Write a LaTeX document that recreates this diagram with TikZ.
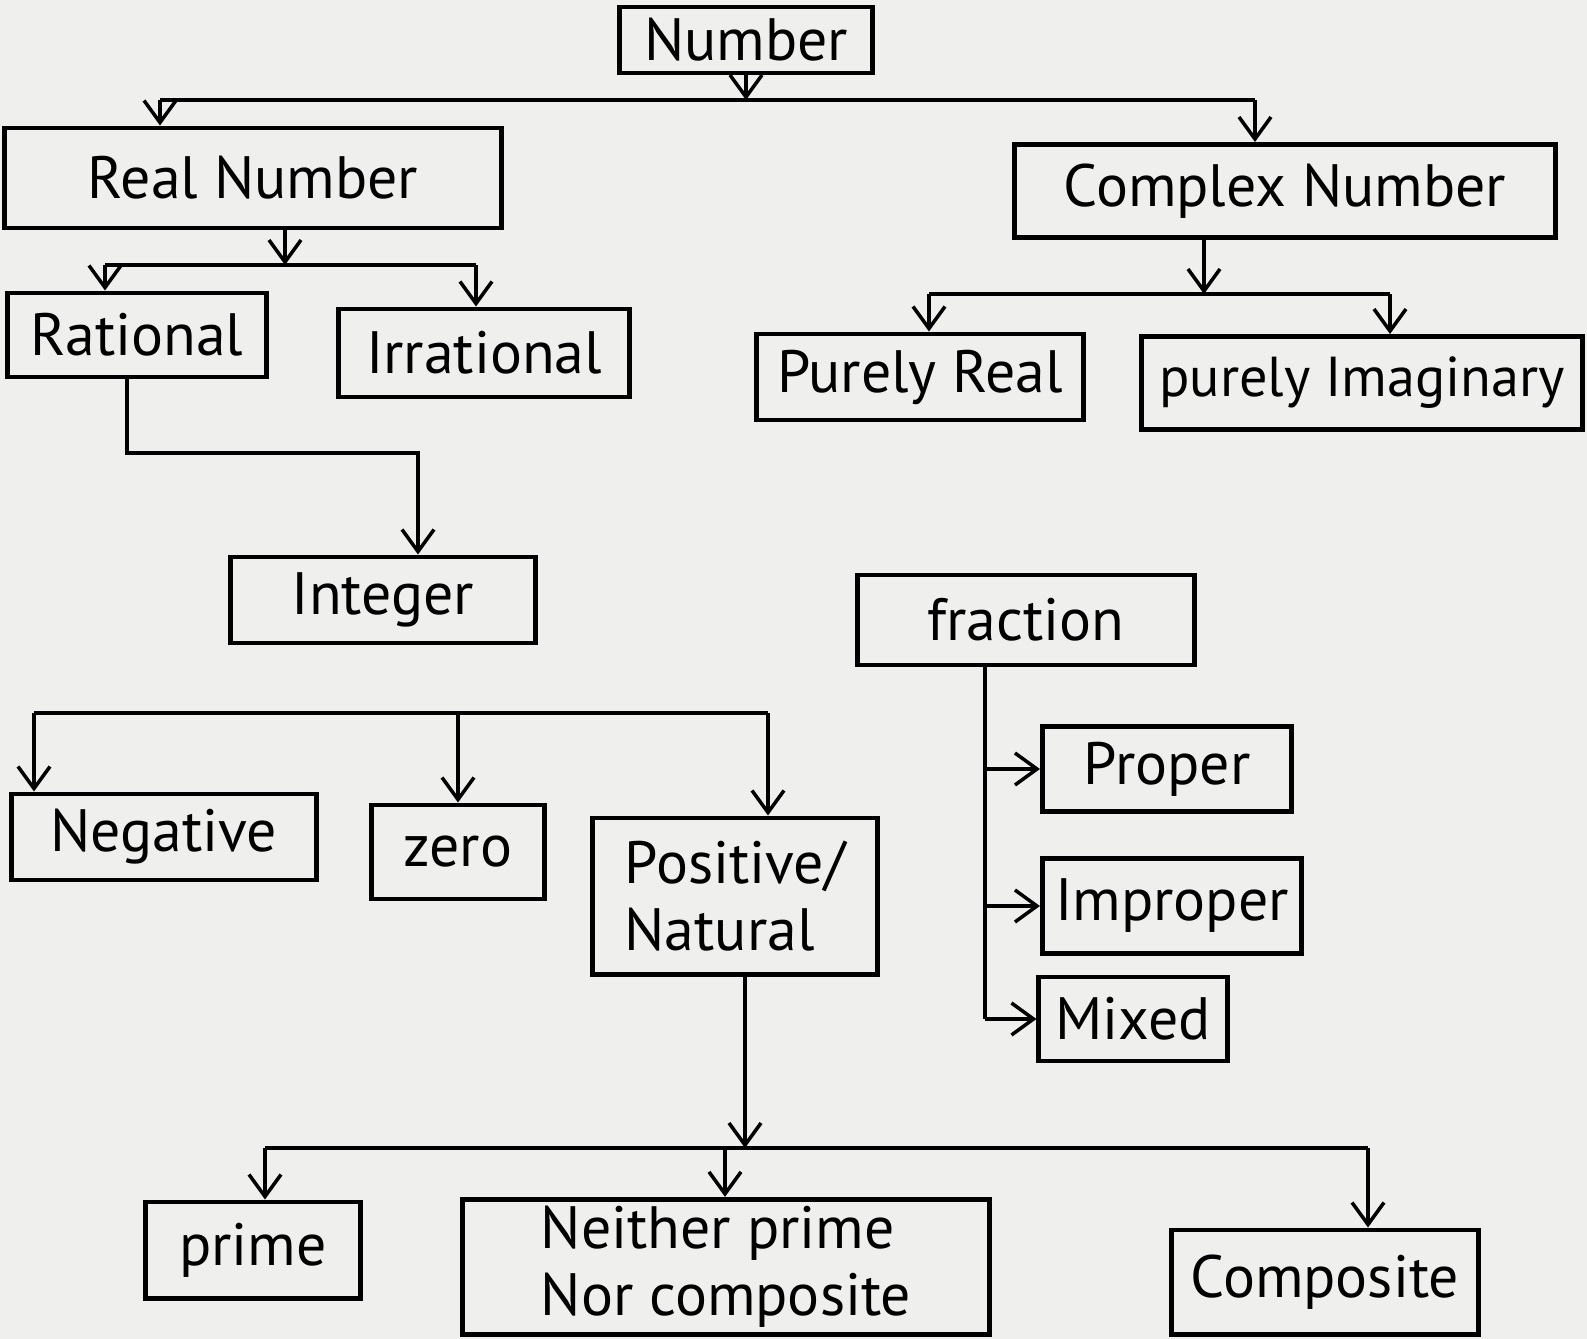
\documentclass[tikz,border=0pt]{standalone}
\usepackage{fontspec}
\setmainfont{PT Sans}
\usetikzlibrary{arrows.meta, calc}

\definecolor{paper}{RGB}{239,239,237}

\begin{document}
\begin{tikzpicture}[x=0.01cm, y=-0.01cm,
	box/.style={draw, rectangle, line width=1.4pt, inner sep=2pt,
		font=\fontsize{17}{19}\selectfont},
	link/.style={line width=1pt},
	arr/.style={link, -{Straight Barb[length=2.2mm, width=3.2mm]}}]

	\fill[paper] (0,0) rectangle (1587,1339);
	\useasboundingbox (0,0) rectangle (1587,1339);

	\node[box, minimum width=2.52cm, minimum height=0.66cm] (number)     at (746,40)   {Number};

	\node[box, minimum width=4.96cm, minimum height=1.00cm] (real)       at (253,178)  {Real Number};
	\node[box, minimum width=5.40cm, minimum height=0.93cm] (complex)    at (1285,191) {Complex Number};

	\node[box, minimum width=2.59cm, minimum height=0.84cm] (rational)   at (137,335)  {Rational};
	\node[box, minimum width=2.90cm, minimum height=0.88cm] (irrational) at (484,353)  {Irrational};
	\node[box, minimum width=3.26cm, minimum height=0.86cm] (pureal)     at (920,377)  {Purely Real};
	\node[box, minimum width=4.40cm, minimum height=0.93cm, font=\fontsize{16}{18}\selectfont]
		(puimag) at (1362,383) {purely Imaginary};

	\node[box, minimum width=3.05cm, minimum height=0.86cm] (integer)    at (383,600)  {Integer};
	\node[box, minimum width=3.36cm, minimum height=0.90cm] (fraction)   at (1026,620) {fraction};

	\node[box, minimum width=3.04cm, minimum height=0.86cm] (negative)   at (164,837)  {Negative};
	\node[box, minimum width=1.73cm, minimum height=0.94cm] (zero)       at (458,852)  {zero};
	\node[box, minimum width=2.85cm, minimum height=1.56cm, align=left]
		(positive) at (735,896) {Positive/\\Natural};

	\node[box, minimum width=2.49cm, minimum height=0.85cm] (proper)     at (1167,769) {Proper};
	\node[box, minimum width=2.59cm, minimum height=0.95cm] (improper)   at (1172,906) {Improper};
	\node[box, minimum width=1.88cm, minimum height=0.84cm] (mixed)      at (1133,1019) {Mixed};

	\node[box, minimum width=2.15cm, minimum height=0.96cm] (prime)      at (253,1250) {prime};
	\node[box, minimum width=5.26cm, minimum height=1.11cm, align=left]
		(neither) at (726,1267) {Neither prime\\Nor composite};
	\node[box, minimum width=3.07cm, minimum height=1.04cm] (composite)  at (1325,1282) {Composite};

	\coordinate (topbus) at (746,100);
	\coordinate (tl) at (160,100);
	\coordinate (tr) at (1255,100);
	\draw[arr] (number.south) -- (topbus);
	\draw[link] (tl) -- (tr);
	\draw[arr] (tl) -- (tl |- real.north);
	\draw[arr] (tr) -- (tr |- complex.north);

	\coordinate (rb) at (285,265);
	\coordinate (rbl) at (105,265);
	\coordinate (rbr) at (476,265);
	\draw[arr] (rb |- real.south) -- (rb);
	\draw[link] (rbl) -- (rbr);
	\draw[arr] (rbl) -- (rbl |- rational.north);
	\draw[arr] (rbr) -- (rbr |- irrational.north);

	\coordinate (cb) at (1204,294);
	\coordinate (cbl) at (929,294);
	\coordinate (cbr) at (1390,294);
	\draw[arr] (cb |- complex.south) -- (cb);
	\draw[link] (cbl) -- (cbr);
	\draw[arr] (cbl) -- (cbl |- pureal.north);
	\draw[arr] (cbr) -- (cbr |- puimag.north);

	\coordinate (ri) at (127,453);
	\coordinate (ri2) at (418,453);
	\draw[arr] (ri |- rational.south) -- (ri) -- (ri2) -- (ri2 |- integer.north);

	\coordinate (ib1) at (34,713);
	\coordinate (ib2) at (458,713);
	\coordinate (ib3) at (768,713);
	\draw[link] (ib1) -- (ib3);
	\draw[arr] (ib1) -- (ib1 |- negative.north);
	\draw[arr] (ib2) -- (ib2 |- zero.north);
	\draw[arr] (ib3) -- (ib3 |- positive.north);

	\coordinate (ft) at (985,0);
	\draw[link] (ft |- fraction.south) -- (ft |- mixed.west);
	\draw[arr] (ft |- proper.west) -- (proper.west);
	\draw[arr] (ft |- improper.west) -- (improper.west);
	\draw[arr] (ft |- mixed.west) -- (mixed.west);

	\coordinate (pb) at (745,1148);
	\coordinate (pbl) at (265,1148);
	\coordinate (pbm) at (725,1148);
	\coordinate (pbr) at (1368,1148);
	\draw[arr] (pb |- positive.south) -- (pb);
	\draw[link] (pbl) -- (pbr);
	\draw[arr] (pbl) -- (pbl |- prime.north);
	\draw[arr] (pbm) -- (pbm |- neither.north);
	\draw[arr] (pbr) -- (pbr |- composite.north);
\end{tikzpicture}
\end{document}
